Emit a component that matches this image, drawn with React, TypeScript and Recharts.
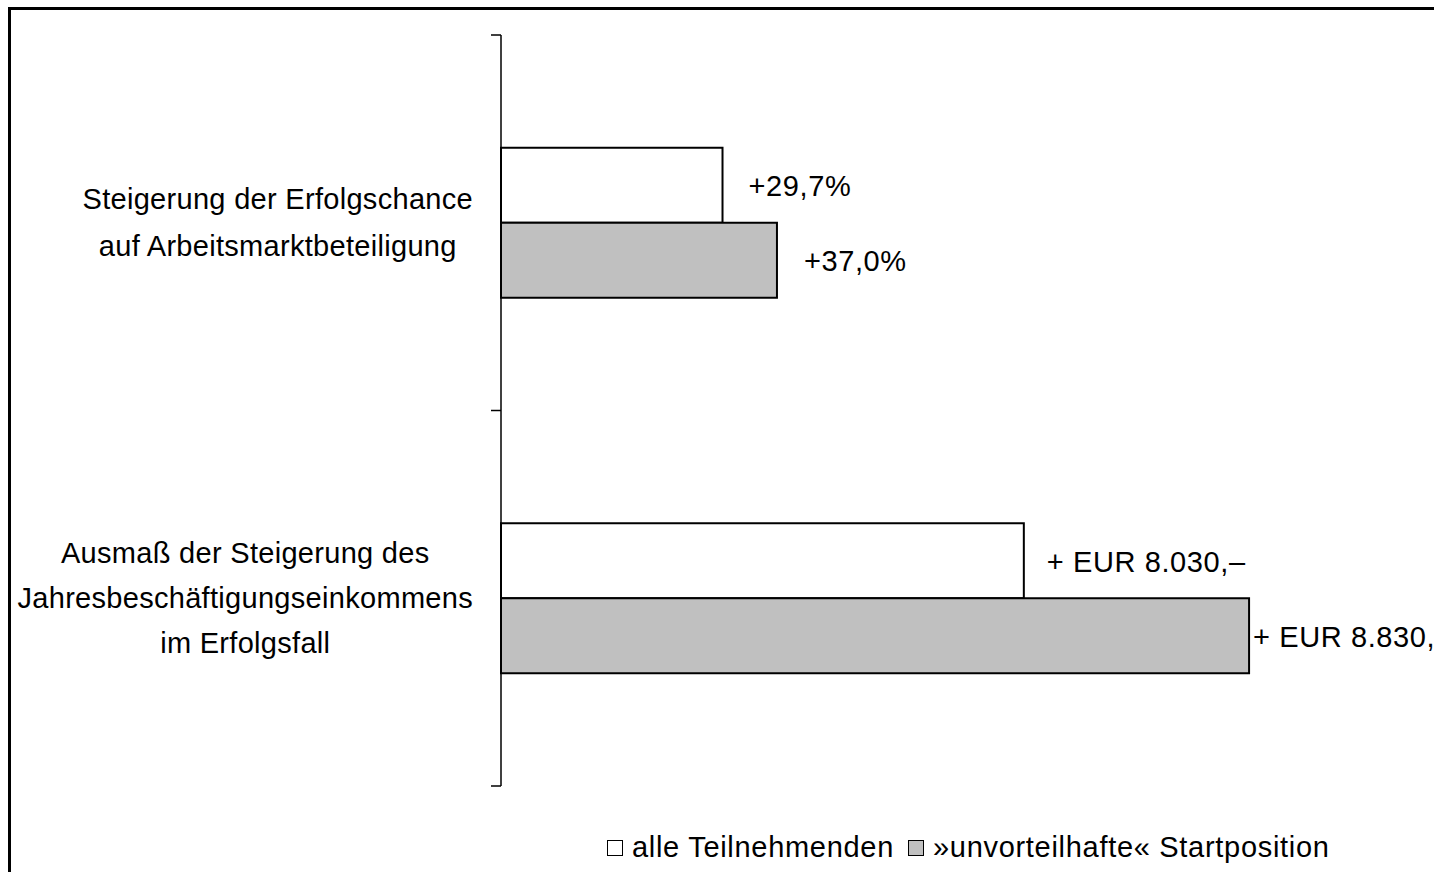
import { BarChart, Bar, XAxis, YAxis, Legend, LabelList } from 'recharts';

const categories = [
  'Steigerung der Erfolgschance\nauf Arbeitsmarktbeteiligung',
  'Ausmaß der Steigerung des\nJahresbeschäftigungseinkommens\nim Erfolgsfall',
];
// bar lengths as drawn (the chart uses one relative scale for both rows)
const allValues = [29.7, 70.1];
const unvValues = [37.0, 100.3];
const allLabels = ['+29,7%', '+ EUR 8.030,–'];
const unvLabels = ['+37,0%', '+ EUR 8.830,–'];
const seriesNames = ['alle Teilnehmenden', '»unvorteilhafte« Startposition'];

const FONT = '"Liberation Sans", Arial, sans-serif';
const FS = 29;
const LS = 0.3;
const GAPS: Record<string, number[]> = { all: [26, 23], unv: [27, 4] };

let ctx: CanvasRenderingContext2D | null = null;
function textWidth(s: string) {
  if (!ctx) ctx = document.createElement('canvas').getContext('2d');
  if (!ctx) return s.length * FS * 0.5;
  ctx.font = `${FS}px ${FONT}`;
  return ctx.measureText(s).width + s.length * LS;
}

const data = categories.map((name, i) => ({
  name,
  all: allValues[i],
  unv: unvValues[i],
}));

function CategoryTick(props: any) {
  const { x, y, payload, index } = props;
  const lines = String(payload.value).split('\n');
  const maxW = Math.max(...lines.map(textWidth));
  const cx = x - 2 - maxW / 2;
  const lh = lines.length > 2 ? 45 : 47;
  const first = y - ((lines.length - 1) * lh) / 2 + FS * 0.35;
  const off = payload.offset || 0;
  const ax = x + 26;
  return (
    <g>
      <line x1={ax - 10} x2={ax} y1={y - off} y2={y - off} stroke="#000" strokeWidth={1.5} />
      {index === categories.length - 1 && (
        <line x1={ax - 10} x2={ax} y1={y + off} y2={y + off} stroke="#000" strokeWidth={1.5} />
      )}
      <text textAnchor="middle" fontFamily={FONT} fontSize={FS} fill="#000" letterSpacing={LS}>
        {lines.map((l, i) => (
          <tspan key={i} x={cx} y={first + i * lh}>
            {l}
          </tspan>
        ))}
      </text>
    </g>
  );
}

function makeLabel(key: 'all' | 'unv', texts: string[]) {
  return (props: any) => {
    const { x, y, width, height, index } = props;
    return (
      <text
        x={x + width + GAPS[key][index]}
        y={y + height / 2 + 1}
        dy="0.35em"
        fontFamily={FONT}
        fontSize={FS}
        letterSpacing={0.6}
        fill="#000"
      >
        {texts[index]}
      </text>
    );
  };
}

function LegendContent() {
  const fills = ['#ffffff', '#c0c0c0'];
  return (
    <div
      style={{
        display: 'flex',
        alignItems: 'center',
        fontFamily: FONT,
        fontSize: FS,
        letterSpacing: 0.7,
        color: '#000',
        whiteSpace: 'nowrap',
      }}
    >
      {seriesNames.map((n, i) => (
        <span key={n} style={{ display: 'inline-flex', alignItems: 'center', marginRight: 14 }}>
          <span
            style={{
              display: 'inline-block',
              width: 16,
              height: 16,
              boxSizing: 'border-box',
              border: '1.5px solid #000',
              background: fills[i],
              marginRight: 9,
            }}
          />
          {n}
        </span>
      ))}
    </div>
  );
}

export default function App() {
  return (
    <div style={{ position: 'fixed', left: 0, top: 0, width: 1434, height: 872, overflow: 'hidden', background: '#fff' }}>
      <div
        style={{
          position: 'absolute',
          left: 8,
          top: 7,
          width: 1500,
          height: 900,
          boxSizing: 'border-box',
          border: '3px solid #000',
        }}
      />
      <div style={{ position: 'absolute', left: 0, top: 0 }}>
        <BarChart
          width={1434}
          height={872}
          data={data}
          layout="vertical"
          margin={{ top: 35, right: 38, bottom: 86, left: 0 }}
          barCategoryGap="30%"
          barGap={0}
        >
          <XAxis type="number" domain={[0, 120]} hide />
          <YAxis
            type="category"
            dataKey="name"
            width={501}
            axisLine={{ stroke: '#000', strokeWidth: 1.5 }}
            tickLine={false}
            tickSize={10}
            tickMargin={16}
            tick={<CategoryTick />}
            interval={0}
          />
          <Legend
            layout="horizontal"
            verticalAlign="middle"
            align="center"
            wrapperStyle={{ left: 607, top: 831, width: 800 }}
            content={<LegendContent />}
          />
          <Bar dataKey="all" name={seriesNames[0]} fill="#ffffff" stroke="#000" strokeWidth={2} isAnimationActive={false}>
            <LabelList dataKey="all" content={makeLabel('all', allLabels)} />
          </Bar>
          <Bar dataKey="unv" name={seriesNames[1]} fill="#c0c0c0" stroke="#000" strokeWidth={2} isAnimationActive={false}>
            <LabelList dataKey="unv" content={makeLabel('unv', unvLabels)} />
          </Bar>
        </BarChart>
      </div>
    </div>
  );
}
